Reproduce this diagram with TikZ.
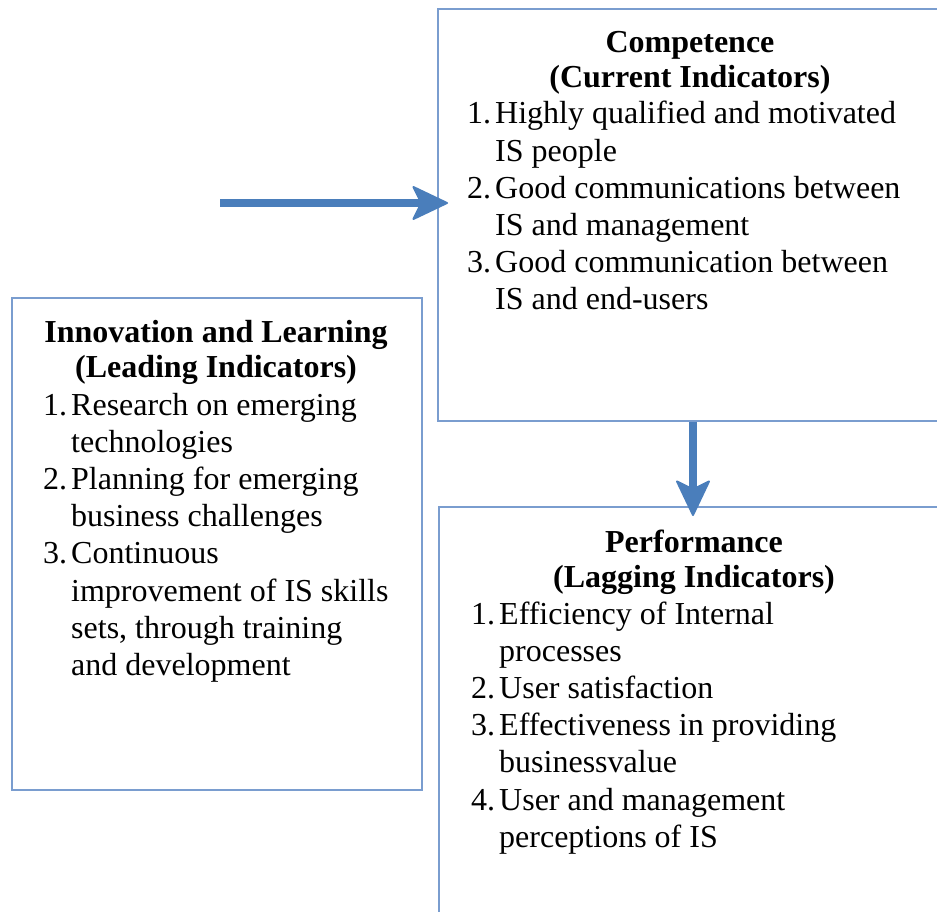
\documentclass[tikz,border=0pt]{standalone}
\usepackage{fontspec}
\setmainfont{Liberation Serif}
\usetikzlibrary{arrows.meta}
\definecolor{boxline}{RGB}{122,157,207}
\definecolor{arrowblue}{RGB}{74,126,187}
\newcommand{\itemrows}[1]{\begin{tabular}[t]{@{}p{28pt}@{}l@{}}#1\end{tabular}}
\begin{document}
\begin{tikzpicture}[x=1pt,y=-1pt,
  panel/.style={draw=boxline,line width=1.8pt,inner sep=0pt,anchor=north west},
  heading/.style={font=\fontsize{32}{35}\selectfont\bfseries,align=center,anchor=base,inner sep=0pt},
  itemlist/.style={font=\fontsize{32}{37.2}\selectfont,anchor=base west,inner sep=0pt},
  flow/.style={draw=arrowblue,line width=8pt,
    -{Stealth[length=38pt,width=36pt,inset=9pt,line width=2pt,round]}}]
\clip (0,0) rectangle (937,912);
\fill[white] (0,0) rectangle (937,912);

% the three panels
\node[panel,minimum width=512pt,minimum height=412pt] (comp) at (437,8) {};
\node[panel,minimum width=410pt,minimum height=492pt] (learn) at (11,297) {};
\node[panel,minimum width=510pt,minimum height=430pt] (perf) at (438,506) {};

% competence panel (anchored on the baseline of its second heading line)
\node[heading] (compT) at (690,88) {Competence\\(Current Indicators)};
\node[itemlist] (compL) at (467,124) {\itemrows{%
1. & Highly qualified and motivated\\
   & IS people\\
2. & Good communications between\\
   & IS and management\\
3. & Good communication between\\
   & IS and end-users}};

% innovation and learning panel
\node[heading] (learnT) at (216,377) {Innovation and Learning\\(Leading Indicators)};
\node[itemlist] (learnL) at (43,415) {\itemrows{%
1. & Research on emerging\\
   & technologies\\
2. & Planning for emerging\\
   & business challenges\\
3. & Continuous\\
   & improvement of IS skills\\
   & sets, through training\\
   & and development}};

% performance panel
\node[heading] (perfT) at (694,587) {Performance\\(Lagging Indicators)};
\node[itemlist] (perfL) at (471,624) {\itemrows{%
1. & Efficiency of Internal\\
   & processes\\
2. & User satisfaction\\
3. & Effectiveness in providing\\
   & businessvalue\\
4. & User and management\\
   & perceptions of IS}};

% connectors
\coordinate (src) at (220,203);
\draw[flow,shorten >=-11pt] (src) -- (comp.west |- src);
\draw[flow,shorten >=-10pt] (comp.south -| 693,0) -- (perf.north -| 693,0);
\end{tikzpicture}
\end{document}
